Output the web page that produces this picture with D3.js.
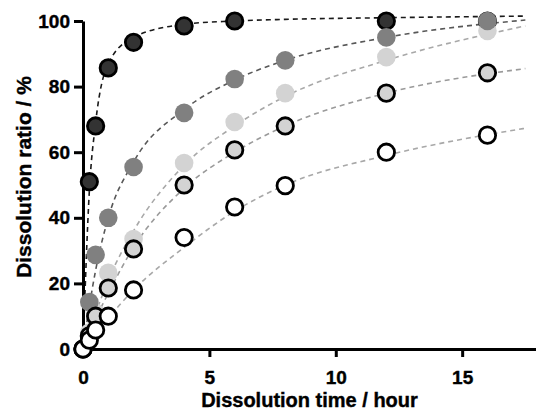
<!DOCTYPE html>
<html>
<head>
<meta charset="utf-8">
<script src="https://cdn.jsdelivr.net/npm/d3@7"></script>
<style>
  body { margin: 0; background: #fff; }
  svg { display: block; font-family: "Liberation Sans", Arial, sans-serif; }
</style>
</head>
<body>
<svg id="svg"></svg>
<script>
// sampling times (hour)
var times = [0, 0.25, 0.5, 1, 2, 4, 6, 8, 12, 16];

// dissolution ratio (%) per formulation, null = no point drawn
var ratioA = [0, 51, 68, 85.7, 93.5, 98.5, 100, null, 100, 100];
var ratioB = [0, 14.3, 28.7, 40, 55.5, 72, 82.3, 88, 95, 100];
var ratioC = [0, 5, 11, 23.2, 33.5, 56.7, 69.2, 78, 89, 97];
var ratioD = [0, 4, 10, 18.6, 30.5, 50, 60.7, 68, 78, 84.2];
var ratioE = [0, 2.7, 5.8, 10, 18, 34, 43.3, 49.8, 60, 65.2];

// dashed fitted curves
var fitTimes = [0, 0.25, 0.5, 1, 2, 4, 6, 8, 12, 17.5];
var fitA = [0, 48, 69, 87, 95, 99, 100, 100.5, 101, 101.5];
var fitB = [0, 13, 24, 40, 57, 73, 82, 88, 95, 100.3];
var fitC = [0, 6, 11, 21, 36, 56, 68, 77, 88, 98.5];
var fitD = [0, 4, 9, 17, 31, 49, 60, 68, 78, 85.5];
var fitE = [0, 2, 5, 9.5, 18, 31, 42, 50, 59, 67.3];

var xTicks = [0, 5, 10, 15];
var yTicks = [0, 20, 40, 60, 80, 100];

var width = 536, height = 411;

var s = d3.select('#svg')
  .attr('width', width)
  .attr('height', height);

// scales
var scaleX = d3.scaleLinear().domain([0, 18]).range([83, 538]);
var scaleY = d3.scaleLinear().domain([0, 100]).range([349, 21]);

// series styles (drawing order matters for overlaps)
var series = [
  { vals: ratioA, fit: fitA, fill: '#333333', stroke: '#000', line: '#1a1a1a' },
  { vals: ratioC, fit: fitC, fill: '#d3d3d3', stroke: 'none', line: '#a8a8a8' },
  { vals: ratioB, fit: fitB, fill: '#808080', stroke: 'none', line: '#585858' },
  { vals: ratioD, fit: fitD, fill: '#d3d3d3', stroke: '#000', line: '#9a9a9a' },
  { vals: ratioE, fit: fitE, fill: '#ffffff', stroke: '#000', line: '#a8a8a8' }
];

var line = d3.line()
  .x(function (d) { return scaleX(d[0]); })
  .y(function (d) { return scaleY(d[1]); })
  .curve(d3.curveMonotoneX);

// fitted curves
s.append('g').selectAll('path.fit')
  .data(series)
  .enter()
  .append('path')
  .attr('class', 'fit')
  .attr('fill', 'none')
  .attr('stroke', function (d) { return d.line; })
  .attr('stroke-width', 1.6)
  .attr('stroke-dasharray', '5,4')
  .attr('d', function (d) {
    return line(fitTimes.map(function (t, i) { return [t, d.fit[i]]; }));
  });

// axes
var axisX = d3.axisBottom(scaleX)
  .tickValues(xTicks)
  .tickSize(8)
  .tickSizeOuter(0)
  .tickPadding(14);

var axisY = d3.axisLeft(scaleY)
  .tickValues(yTicks)
  .tickSize(9)
  .tickSizeOuter(0)
  .tickPadding(4);

var gx = s.append('g')
  .attr('transform', 'translate(0,' + scaleY(0) + ')')
  .call(axisX);

var gy = s.append('g')
  .attr('transform', 'translate(' + scaleX(0) + ',0)')
  .call(axisY);

[gx, gy].forEach(function (g) {
  g.select('.domain').attr('stroke', '#000').attr('stroke-width', 3);
  g.selectAll('.tick line').attr('stroke', '#000').attr('stroke-width', 3);
  g.selectAll('.tick text')
    .attr('fill', '#000')
    .attr('stroke', '#000')
    .attr('stroke-width', 0.4)
    .style('font-size', '19px')
    .style('font-weight', 'bold');
});

// points
series.forEach(function (sr, k) {
  var pts = times.map(function (t, i) { return [t, sr.vals[i]]; })
    .filter(function (d) { return d[1] !== null; });
  s.append('g').selectAll('circle')
    .data(pts)
    .enter()
    .append('circle')
    .attr('cx', function (d) { return scaleX(d[0]); })
    .attr('cy', function (d) { return scaleY(d[1]); })
    .attr('r', sr.stroke === 'none' ? 9.3 : 8.2)
    .attr('fill', sr.fill)
    .attr('stroke', sr.stroke)
    .attr('stroke-width', 2.8);
});

// axis titles
s.append('text')
  .attr('x', (scaleX(0) + width) / 2)
  .attr('y', 407)
  .attr('text-anchor', 'middle')
  .attr('stroke', '#000')
  .attr('stroke-width', 0.4)
  .style('font-size', '20px')
  .style('font-weight', 'bold')
  .text('Dissolution time / hour');

s.append('text')
  .attr('transform', 'translate(31,' + (scaleY(50) - 8) + ') rotate(-90)')
  .attr('text-anchor', 'middle')
  .attr('stroke', '#000')
  .attr('stroke-width', 0.4)
  .style('font-size', '21px')
  .style('font-weight', 'bold')
  .text('Dissolution ratio / %');
</script>
</body>
</html>
